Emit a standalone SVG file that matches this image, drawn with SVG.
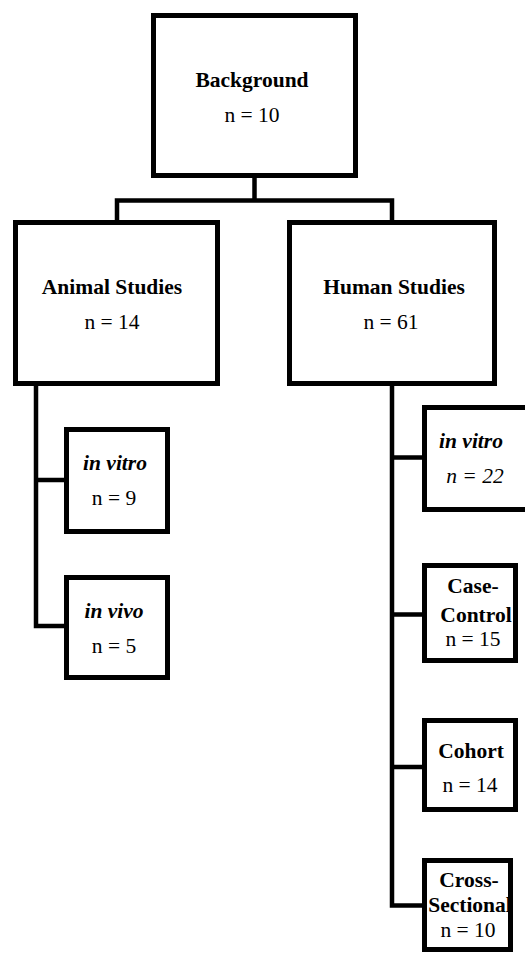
<svg xmlns="http://www.w3.org/2000/svg" width="525" height="954" viewBox="0 0 525 954">
<style>
.box{fill:#fff;stroke:#000;stroke-width:5}
.con{fill:none;stroke:#000;stroke-width:4.5;stroke-linecap:square}
.b{font-weight:bold}
.bi{font-weight:bold;font-style:italic}
.i{font-style:italic}
</style>
<rect width="525" height="954" fill="#fff"/>
<g id="connectors">
<path class="con" d="M254.5,178 V200.5 M117,220 V200.5 H392 V220"/>
<path class="con" d="M36,386 V626 H64 M36,480 H64"/>
<path class="con" d="M392,386 V905.5 H422 M392,457.5 H422 M392,614.5 H422 M392,767 H422"/>
</g>
<g font-family="Liberation Serif, Times New Roman, Times, serif" font-size="21.5" text-anchor="middle" fill="#000">
<g id="background">
<rect class="box" x="153.5" y="15.5" width="202" height="160"/>
<text class="b" x="252" y="87">Background</text>
<text x="252" y="122">n = 10</text>
</g>
<g id="animal">
<rect class="box" x="15.5" y="222.5" width="202" height="161"/>
<text class="b" x="112" y="294">Animal Studies</text>
<text x="112" y="329">n = 14</text>
</g>
<g id="human">
<rect class="box" x="289.5" y="222.5" width="205" height="161"/>
<text class="b" x="394" y="294">Human Studies</text>
<text x="391" y="329">n = 61</text>
</g>
<g id="animal-invitro">
<rect class="box" x="66.5" y="429.5" width="101" height="102"/>
<text class="bi" x="115" y="470">in vitro</text>
<text x="114" y="505">n = 9</text>
</g>
<g id="animal-invivo">
<rect class="box" x="66.5" y="577.5" width="101" height="100"/>
<text class="bi" x="114" y="618">in vivo</text>
<text x="114" y="653">n = 5</text>
</g>
<g id="human-invitro">
<rect class="box" x="424.5" y="407.5" width="103" height="102"/>
<text class="bi" x="471" y="448">in vitro</text>
<text class="i" x="475" y="483">n = 22</text>
</g>
<g id="case-control">
<rect class="box" x="424.5" y="565.5" width="91" height="95"/>
<text class="b" x="473" y="593">Case-</text>
<text class="b" x="476" y="622">Control</text>
<text x="473" y="646">n = 15</text>
</g>
<g id="cohort">
<rect class="box" x="424.5" y="720.5" width="91" height="89"/>
<text class="b" x="471" y="758">Cohort</text>
<text x="470" y="792">n = 14</text>
</g>
<g id="cross-sectional">
<rect class="box" x="424.5" y="860.5" width="86" height="89"/>
<text class="b" x="469" y="887">Cross-</text>
<text class="b" x="470" y="912">Sectional</text>
<text x="468" y="937">n = 10</text>
</g>
</g>
</svg>
